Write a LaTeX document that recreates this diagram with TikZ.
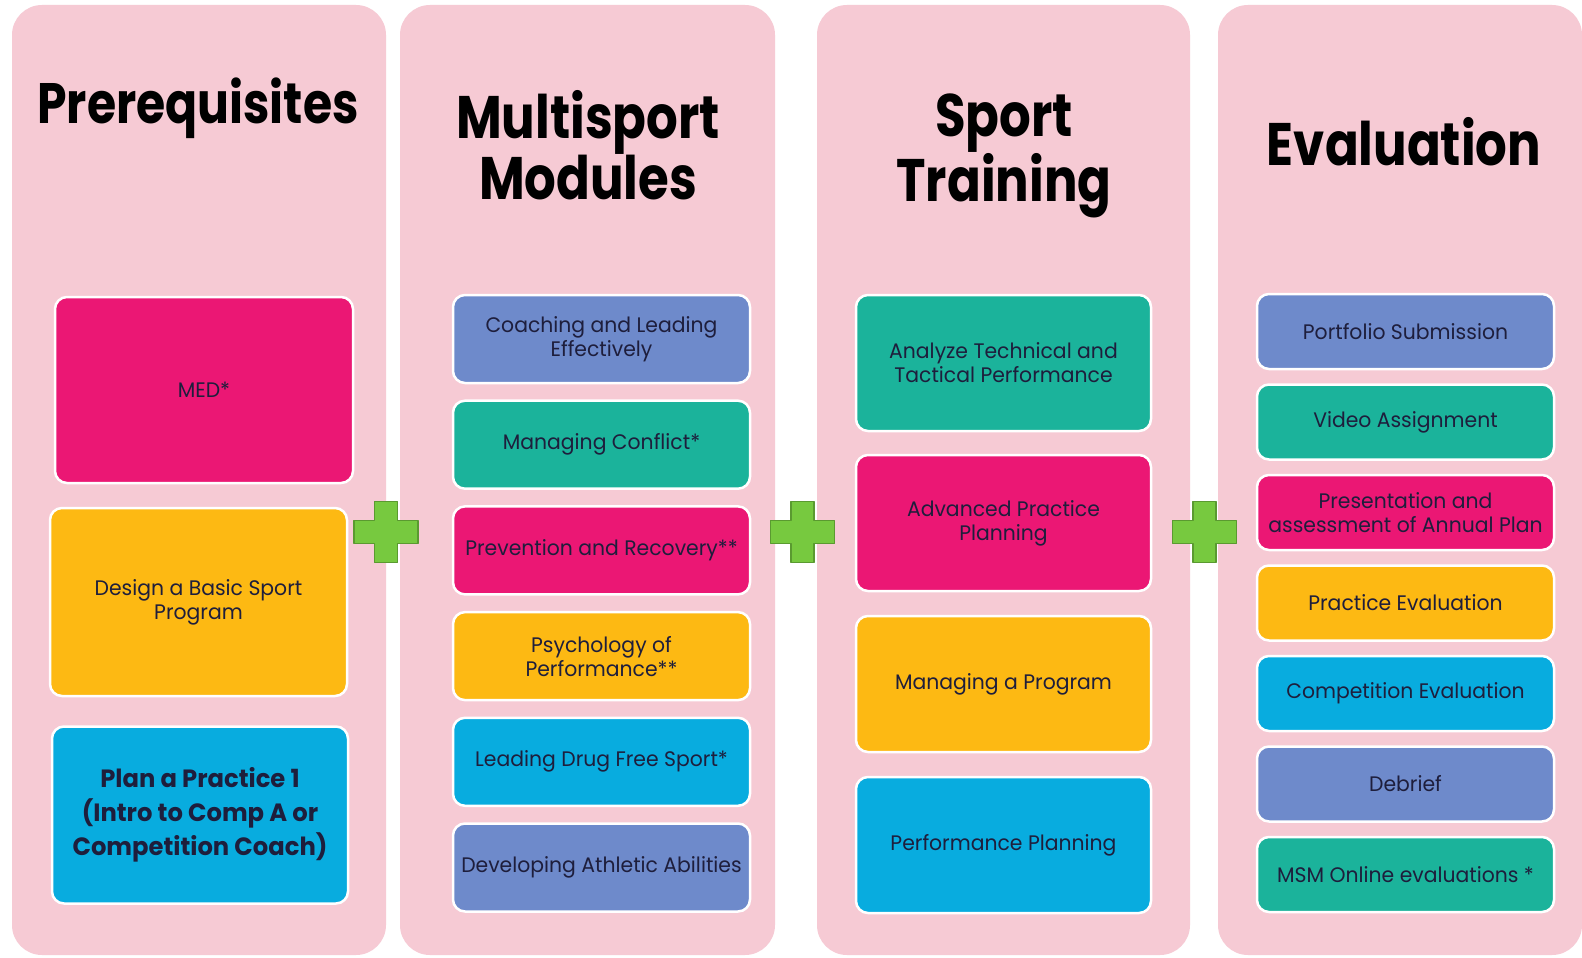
\documentclass[tikz,border=0pt]{standalone}
\usepackage{fontspec}
\newfontfamily\headfont{Poppins}[FakeStretch=0.83]
\newfontfamily\cardfont{Poppins}[FakeStretch=0.97]
\usetikzlibrary{calc,positioning}
\definecolor{colpink}{HTML}{F6CAD4}
\definecolor{cardblue}{HTML}{6E8ACB}
\definecolor{cardteal}{HTML}{1BB39B}
\definecolor{cardmag}{HTML}{EB1774}
\definecolor{cardyel}{HTML}{FDB913}
\definecolor{cardcyan}{HTML}{08ACDF}
\definecolor{plusfill}{HTML}{77C93F}
\definecolor{plusline}{HTML}{5A9A30}
\definecolor{ink}{HTML}{1E1E3C}
\tikzset{
  column/.style={fill=colpink,rounded corners=30pt},
  card/.style={draw=white,line width=2.5pt,rounded corners=12pt,
    inner sep=2pt,align=center,text=ink,
    font=\cardfont\fontsize{21}{24}\selectfont},
  head/.style={align=center,text=black,
    font=\headfont\bfseries\fontsize{60}{61}\selectfont},
  plussign/.style={fill=plusfill,draw=plusline,line width=1.5pt,
    line join=round}}

\begin{document}
\begin{tikzpicture}[x=1pt,y=-1pt]
\useasboundingbox[fill=white] (0,0) rectangle (1582,958);
\fill[column] (12,5) rectangle (386,955);
\fill[column] (400,5) rectangle (775,955);
\fill[column] (817,5) rectangle (1190,955);
\fill[column] (1218,5) rectangle (1582,955);

\node[head,anchor=base,font=\headfont\bfseries\fontsize{57}{61}\selectfont]
  (prereq) at (198,123) {Prerequisites};
\node[head] (multi) at (588,145) {Multisport\\Modules};
\node[head] (sport) at (1004,156) {Sport\\Training};
\node[head,anchor=base] (eval) at (1404,165) {Evaluation};

\node[card,fill=cardmag,minimum width=298,minimum height=186]
  (med) at (204,390) {MED*};
\node[card,fill=cardyel,minimum width=297,minimum height=188]
  (design) at (198.5,602) {Design a Basic Sport\\Program};
\node[card,fill=cardcyan,minimum width=296,minimum height=177,
  font=\cardfont\bfseries\fontsize{25}{34}\selectfont]
  (plan) at (200,815) {Plan a Practice 1\\(Intro to Comp A or\\Competition Coach)};

\foreach \y/\c/\t [count=\i] in {%
  339/cardblue/{Coaching and Leading\\Effectively},
  444.7/cardteal/{Managing Conflict*},
  550.4/cardmag/{Prevention and Recovery**},
  656.1/cardyel/{Psychology of\\Performance**},
  761.8/cardcyan/{Leading Drug Free Sport*},
  867.5/cardblue/{Developing Athletic Abilities}}
  \node[card,fill=\c,minimum width=297,minimum height=88]
    (mod\i) at (601.5,\y) {\t};

\foreach \y/\c/\t [count=\i] in {%
  363/cardteal/{Analyze Technical and\\Tactical Performance},
  523/cardmag/{Advanced Practice\\Planning},
  684/cardyel/{Managing a Program},
  845/cardcyan/{Performance Planning}}
  \node[card,fill=\c,minimum width=295,minimum height=136]
    (train\i) at (1003.5,\y) {\t};

\foreach \y/\c/\t [count=\i] in {%
  331.5/cardblue/{Portfolio Submission},
  422/cardteal/{Video Assignment},
  512.5/cardmag/{Presentation and\\assessment of Annual Plan},
  603/cardyel/{Practice Evaluation},
  693.5/cardcyan/{Competition Evaluation},
  784/cardblue/{Debrief},
  874.5/cardteal/{MSM Online evaluations *}}
  \node[card,fill=\c,minimum width=297,minimum height=75]
    (ev\i) at (1405.5,\y) {\t};

\foreach \x in {386,802.5,1204.5}
  \draw[plussign,shift={(\x,532)}] (-32,-11.5) -- (-11.5,-11.5)
    -- (-11.5,-30.5) -- (11.5,-30.5) -- (11.5,-11.5) -- (32,-11.5)
    -- (32,11.5) -- (11.5,11.5) -- (11.5,30.5) -- (-11.5,30.5)
    -- (-11.5,11.5) -- (-32,11.5) -- cycle;
\end{tikzpicture}
\end{document}
